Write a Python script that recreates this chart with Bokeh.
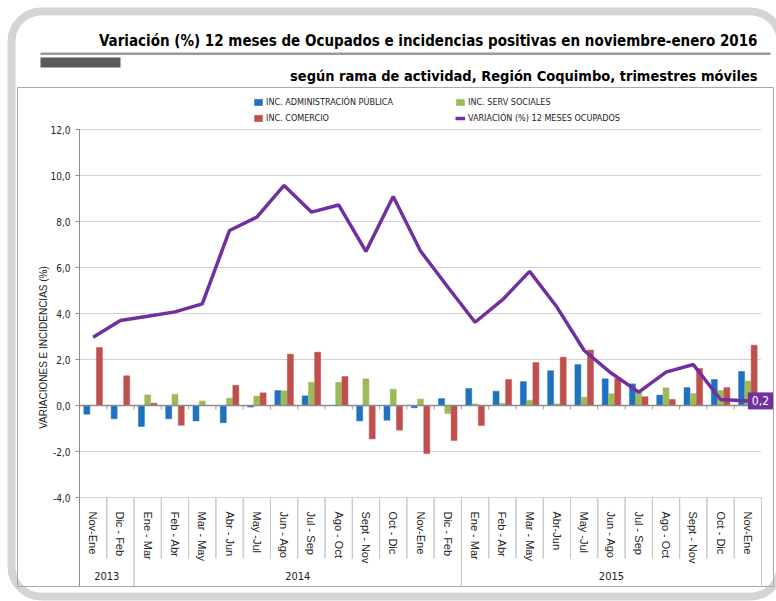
import math
from bokeh.plotting import figure
from bokeh.models import (Range1d, Label, BoxAnnotation, Legend, LegendItem, LinearAxis,
                          FixedTicker, ColumnDataSource)
from bokeh.transform import dodge
from bokeh.embed import file_html
from bokeh.resources import INLINE

# ---------------- data ----------------
years = ["2013", "2013",
         "2014", "2014", "2014", "2014", "2014", "2014", "2014", "2014", "2014", "2014", "2014", "2014",
         "2015", "2015", "2015", "2015", "2015", "2015", "2015", "2015", "2015", "2015", "2015"]
periods = ["Nov-Ene", "Dic - Feb",
           "Ene - Mar", "Feb - Abr", "Mar - May", "Abr - Jun", "May -Jul", "Jun - Ago", "Jul - Sep",
           "Ago - Oct", "Sept - Nov", "Oct - Dic", "Nov-Ene", "Dic - Feb",
           "Ene - Mar", "Feb - Abr", "Mar - May", "Abr-Jun", "May -Jul", "Jun - Ago", "Jul - Sep",
           "Ago - Oct", "Sept - Nov", "Oct - Dic", "Nov-Ene"]
inc_admin = [-0.38, -0.58, -0.91, -0.58, -0.67, -0.75, -0.07, 0.65, 0.42, 0.0, -0.67, -0.64, -0.10,
             0.30, 0.74, 0.62, 1.04, 1.51, 1.78, 1.16, 0.94, 0.45, 0.78, 1.13, 1.48]
inc_serv = [0.0, 0.0, 0.46, 0.49, 0.20, 0.32, 0.41, 0.64, 1.01, 1.01, 1.16, 0.71, 0.28,
            -0.35, 0.07, 0.10, 0.23, 0.07, 0.36, 0.51, 0.59, 0.77, 0.52, 0.65, 1.06]
inc_comercio = [2.52, 1.29, 0.10, -0.86, 0.0, 0.88, 0.55, 2.23, 2.32, 1.26, -1.45, -1.07, -2.09,
                -1.52, -0.87, 1.13, 1.87, 2.10, 2.41, 1.16, 0.38, 0.26, 1.61, 0.78, 2.62]
variacion = [2.97, 3.70, 3.88, 4.07, 4.42, 7.61, 8.19, 9.57, 8.41, 8.72, 6.70, 9.09, 6.72,
             5.15, 3.62, 4.59, 5.83, 4.28, 2.39, 1.40, 0.58, 1.45, 1.78, 0.26, 0.2]
y_ticks = [-4, -2, 0, 2, 4, 6, 8, 10, 12]
y_tick_labels = ["-4,0", "-2,0", "0,0", "2,0", "4,0", "6,0", "8,0", "10,0", "12,0"]
series_names = ["INC. ADMINISTRACIÓN PÚBLICA", "INC. SERV SOCIALES", "INC. COMERCIO",
                "VARIACIÓN (%) 12 MESES OCUPADOS"]
title_1 = "Variación (%) 12 meses de Ocupados e incidencias positivas en noviembre-enero 2016"
title_2 = "según rama de actividad, Región Coquimbo, trimestres móviles"
y_title = "VARIACIONES E INCIDENCIAS (%)"

# ---------------- style ----------------
BLUE = "#1F72C0"
GREEN = "#9BBB59"
RED = "#C0504D"
PURPLE = "#7030A0"
NARROW = "DejaVu Sans Condensed"
ARIAL = "Liberation Sans"

N = len(periods)
Y_MIN, Y_MAX = y_ticks[0], y_ticks[-1]

# ---------------- geometry (picture pixels) ----------------
W, H = 776, 601            # canvas (page has no margin in Bokeh's template)
OX, OY = 0, 0
FL, FR, FT, FB = 79, 761, 129, 497   # plot area in picture pixels
cw = (FR - FL) / N                    # px per category
vh = (FB - FT) / (Y_MAX - Y_MIN)      # px per unit


def X(px):
    return (px - FL) / cw


def Y(py):
    return Y_MAX - (py - FT) / vh


centers = [i + 0.5 for i in range(N)]
src = ColumnDataSource(dict(x=centers, admin=inc_admin, serv=inc_serv, com=inc_comercio, var=variacion))

p = figure(width=W, height=H,
           x_range=Range1d(X(OX), X(OX + W)), y_range=Range1d(Y(OY + H), Y(OY)),
           output_backend="svg", toolbar_location=None,
           x_axis_location=None, y_axis_location=None,
           min_border_left=0, min_border_right=0, min_border_top=0, min_border_bottom=0)
p.background_fill_color = "white"
p.border_fill_color = "white"
p.outline_line_color = None
p.grid.visible = False

# picture-pixel ranges for the decorations
p.extra_x_ranges = {"px": Range1d(OX, OX + W)}
p.extra_y_ranges = {"py": Range1d(OY + H, OY)}

# ---------------- grid & zero line ----------------
grid_vals = [t for t in y_ticks if t != 0]
p.segment(x0=[0] * len(grid_vals), x1=[N] * len(grid_vals), y0=grid_vals, y1=grid_vals,
          line_color="#a6a6a6", line_width=1, line_dash="1 1")

# ---------------- bars ----------------
bw = 0.22
r_admin = p.vbar(x=dodge("x", -0.23), top="admin", width=bw, source=src,
                 fill_color=BLUE, line_color=BLUE, line_width=0.5)
r_serv = p.vbar(x=dodge("x", 0.0), top="serv", width=bw, source=src,
                fill_color=GREEN, line_color=GREEN, line_width=0.5)
r_com = p.vbar(x=dodge("x", 0.23), top="com", width=bw, source=src,
               fill_color=RED, line_color=RED, line_width=0.5)

p.segment(x0=[0], x1=[N], y0=[0], y1=[0], line_color="#8c8c8c", line_width=1.5)
bounds = list(range(1, N))
p.segment(x0=bounds, y0=[0] * len(bounds), x1=bounds, y1=[-4 / vh] * len(bounds),
          line_color="#9a9a9a", line_width=1)

r_var = p.line(x="x", y="var", source=src, line_color=PURPLE, line_width=3.5)

# ---------------- axes ----------------
yax = LinearAxis(fixed_location=0, bounds=(Y_MIN, Y_MAX), ticker=FixedTicker(ticks=y_ticks),
                 major_label_overrides={float(t): s for t, s in zip(y_ticks, y_tick_labels)})
yax.axis_line_color = "#8c8c8c"
yax.major_tick_line_color = "#8c8c8c"
yax.major_tick_out = 4
yax.major_tick_in = 0
yax.minor_tick_line_color = None
yax.major_label_standoff = 5
yax.major_label_text_font = NARROW
yax.major_label_text_font_size = "10px"
yax.major_label_text_color = "#222222"
p.add_layout(yax, "left")

xax = LinearAxis(fixed_location=Y_MIN, ticker=FixedTicker(ticks=centers),
                 major_label_overrides={float(c): s for c, s in zip(centers, periods)})
xax.axis_line_color = None
xax.major_tick_line_color = None
xax.minor_tick_line_color = None
xax.major_label_orientation = "vertical"
xax.major_label_standoff = 8
xax.major_label_text_font = ARIAL
xax.major_label_text_font_size = "11px"
xax.major_label_text_color = "#222222"
p.add_layout(xax, "below")

uyears = []
for yv in years:
    if yv not in uyears:
        uyears.append(yv)
year_pos = [(years.index(yv) + (N - years[::-1].index(yv))) / 2 for yv in uyears]
yrax = LinearAxis(fixed_location=Y_MIN, ticker=FixedTicker(ticks=year_pos),
                  major_label_overrides={float(c): s for c, s in zip(year_pos, uyears)})
yrax.axis_line_color = None
yrax.major_tick_line_color = None
yrax.minor_tick_line_color = None
yrax.major_label_standoff = 68
yrax.major_label_text_font = NARROW
yrax.major_label_text_font_size = "11px"
yrax.major_label_text_color = "#222222"
p.add_layout(yrax, "below")

# separators in the category-label area
group_edges = {0, N}
for i in range(1, N):
    if years[i] != years[i - 1]:
        group_edges.add(i)
for i in range(N + 1):
    p.add_layout(BoxAnnotation(left=i, right=i, top=FB, bottom=(586 if i in group_edges else 558),
                               y_range_name="py", fill_color=None, line_alpha=1,
                               line_color=("#8c8c8c" if i == 0 else "#c8c8c8"), line_width=1))

# ---------------- legend (two columns) ----------------
def mk_legend(items, px):
    lg = Legend(items=items, location=(px - OX, OY + H - 124), orientation="vertical",
                glyph_width=10, glyph_height=8, label_height=12, label_standoff=3,
                spacing=4, padding=0, margin=0, border_line_color=None,
                background_fill_alpha=0, label_text_font=NARROW, label_text_font_size="9px",
                label_text_color="#222222")
    p.add_layout(lg)

mk_legend([LegendItem(label=series_names[0], renderers=[r_admin]),
           LegendItem(label=series_names[2], renderers=[r_com])], 253)
mk_legend([LegendItem(label=series_names[1], renderers=[r_serv]),
           LegendItem(label=series_names[3], renderers=[r_var])], 455)

# ---------------- data label on last point ----------------
p.add_layout(Label(x=centers[-1], y=variacion[-1], text=f"{variacion[-1]:.1f}".replace(".", ","),
                   text_align="left", text_baseline="middle", text_color="white",
                   text_font=NARROW, text_font_size="12px",
                   background_fill_color=PURPLE, padding=4))

# ---------------- decorations ----------------
def box(l, r, t, b, **kw):
    p.add_layout(BoxAnnotation(left=l, right=r, top=t, bottom=b,
                               x_range_name="px", y_range_name="py",
                               fill_alpha=1, line_alpha=1, **kw))

box(11, 780, 11, 596, fill_color=None, line_color="#d4d4d4", line_width=8, border_radius=30)
box(17, 773, 87, 586, fill_color=None, line_color="#a8a8a8", line_width=1)
box(40, 770, 52, 54.5, fill_color="#9a9a9a", line_color=None)
box(40, 120, 57, 67, fill_color="#5a5a5a", line_color=None)


def label(x, y, text, **kw):
    p.add_layout(Label(x=x, y=y, x_range_name="px", y_range_name="py", text=text, **kw))

label(757, 40, title_1, text_align="right", text_baseline="alphabetic", text_font=NARROW,
      text_font_style="bold", text_font_size="15px", text_color="black")
label(757, 75, title_2, text_align="right", text_baseline="alphabetic", text_font=NARROW,
      text_font_style="bold", text_font_size="14.5px", text_color="black")
label(43, 347, y_title, angle=math.pi / 2, text_align="center", text_baseline="middle",
      text_font=ARIAL, text_font_size="10px", text_color="#222222")

open("out.html", "w").write(file_html(p, INLINE))
